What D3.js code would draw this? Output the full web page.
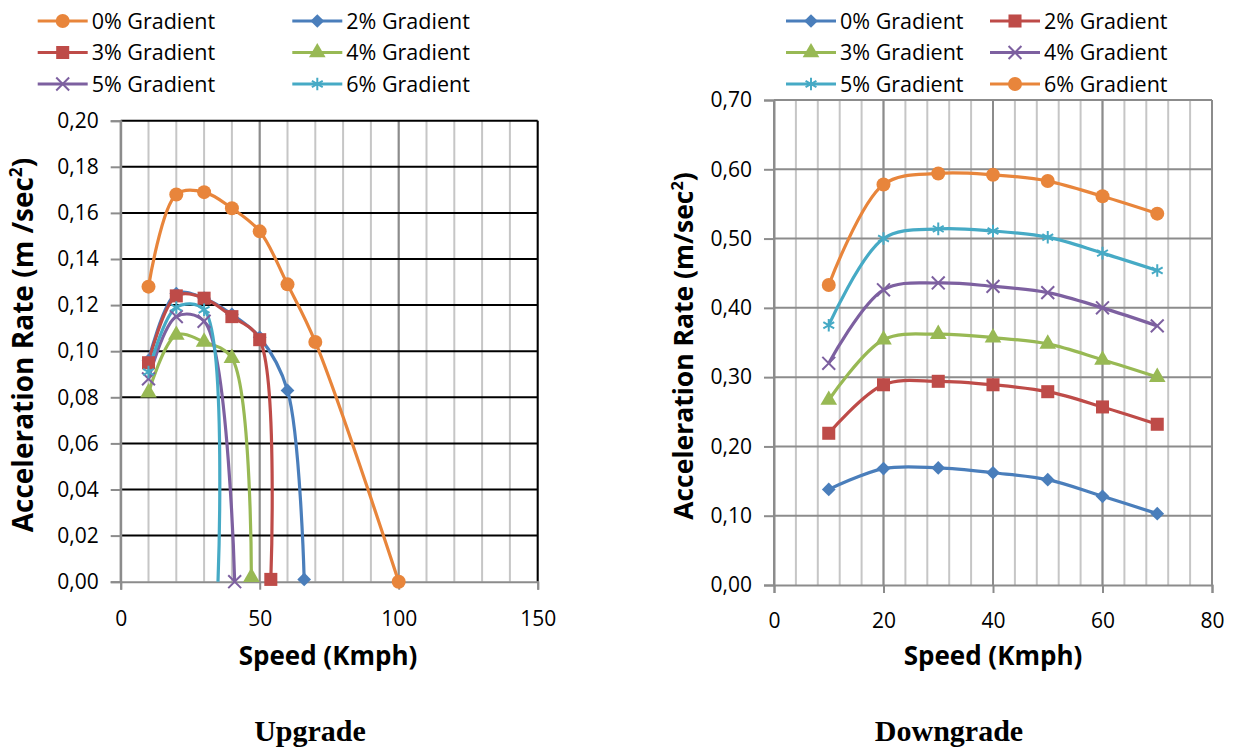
<html>
<head>
<meta charset="utf-8">
<style>
  body { margin: 0; background: #fff; }
  text { font-family: "Open Sans", sans-serif; fill: #000; }
</style>
</head>
<body>
<script src="https://d3js.org/d3.v7.min.js"></script>
<svg id="chart" width="1243" height="749"></svg>
<script>
// ---- data ----
const upLabels = ["0% Gradient", "2% Gradient", "3% Gradient", "4% Gradient", "5% Gradient", "6% Gradient"];
const upSpeeds = [
  [10, 20, 30, 40, 50, 60, 70, 100],
  [10, 20, 30, 40, 50, 60, 66],
  [10, 20, 30, 40, 50, 54],
  [10, 20, 30, 40, 47],
  [10, 20, 30, 41],
  [10, 20, 30, 35]
];
const upRates = [
  [0.128, 0.168, 0.169, 0.162, 0.152, 0.129, 0.104, 0.000],
  [0.096, 0.125, 0.123, 0.116, 0.106, 0.083, 0.001],
  [0.095, 0.124, 0.123, 0.115, 0.105, 0.001],
  [0.082, 0.107, 0.104, 0.097, 0.002],
  [0.088, 0.115, 0.113, 0.000],
  [0.091, 0.119, 0.118, 0.000]
];
// last teal point has no visible marker in the original
const upHideLastMarker = [false, false, false, false, false, true];
const upYTicks = [0, 0.02, 0.04, 0.06, 0.08, 0.10, 0.12, 0.14, 0.16, 0.18, 0.20];
const upXTicks = [0, 50, 100, 150];

const downLabels = ["0% Gradient", "2% Gradient", "3% Gradient", "4% Gradient", "5% Gradient", "6% Gradient"];
const downSpeeds = [10, 20, 30, 40, 50, 60, 70];
const downRates = [
  [0.138, 0.168, 0.169, 0.162, 0.152, 0.128, 0.103],
  [0.219, 0.289, 0.294, 0.289, 0.279, 0.257, 0.232],
  [0.267, 0.354, 0.362, 0.357, 0.348, 0.325, 0.300],
  [0.320, 0.426, 0.436, 0.431, 0.422, 0.400, 0.374],
  [0.375, 0.500, 0.514, 0.511, 0.502, 0.479, 0.454],
  [0.433, 0.578, 0.594, 0.592, 0.583, 0.561, 0.536]
];
const downYTicks = [0, 0.1, 0.2, 0.3, 0.4, 0.5, 0.6, 0.7];
const downXTicks = [0, 20, 40, 60, 80];

// ---- styles ----
const C = {
  blue: "#4A7EBB", red: "#BE4B48", green: "#98B954",
  purple: "#7D60A0", teal: "#46AAC5", orange: "#E8853B"
};
const upStyle = [
  { color: C.orange, sym: "circle" },
  { color: C.blue, sym: "diamond" },
  { color: C.red, sym: "square" },
  { color: C.green, sym: "triangle" },
  { color: C.purple, sym: "times" },
  { color: C.teal, sym: "star" }
];
const downStyle = [
  { color: C.blue, sym: "diamond" },
  { color: C.red, sym: "square" },
  { color: C.green, sym: "triangle" },
  { color: C.purple, sym: "times" },
  { color: C.teal, sym: "star" },
  { color: C.orange, sym: "circle" }
];

const svg = d3.select("#chart");
const comma = v => d3.format(".2f")(v).replace(".", ",");

function drawMarker(g, sym, color) {
  if (sym === "circle") {
    g.append("circle").attr("r", 7).attr("fill", color);
  } else if (sym === "diamond") {
    g.append("path").attr("d", d3.symbol(d3.symbolDiamond2, 120)()).attr("fill", color);
  } else if (sym === "square") {
    g.append("path").attr("d", d3.symbol(d3.symbolSquare, 170)()).attr("fill", color);
  } else if (sym === "triangle") {
    g.append("path").attr("d", d3.symbol(d3.symbolTriangle, 120)()).attr("fill", color);
  } else if (sym === "times") {
    g.append("path").attr("d", d3.symbol(d3.symbolTimes, 110)())
      .attr("fill", "none").attr("stroke", color).attr("stroke-width", 2);
  } else if (sym === "star") {
    g.append("path").attr("d", d3.symbol(d3.symbolAsterisk, 110)())
      .attr("fill", "none").attr("stroke", color).attr("stroke-width", 2);
  }
}

function drawChart(opt) {
  const g = svg.append("g");
  const x = d3.scaleLinear().domain(opt.xDomain).range(opt.xRange);
  const y = d3.scaleLinear().domain(opt.yDomain).range(opt.yRange);
  const [x0, x1] = opt.xRange, [y0, y1] = opt.yRange;

  // vertical minor gridlines
  const minor = d3.range(opt.xDomain[0], opt.xDomain[1] + 1e-9, opt.minorStep);
  g.selectAll(".vminor").data(minor).join("line")
    .attr("x1", d => x(d)).attr("x2", d => x(d)).attr("y1", y0).attr("y2", y1)
    .attr("stroke", "#c6c6c6").attr("stroke-width", 2);
  g.selectAll(".vmajor").data(opt.xTicks).join("line")
    .attr("x1", d => x(d)).attr("x2", d => x(d)).attr("y1", y0).attr("y2", y1)
    .attr("stroke", d => d === opt.xDomain[1] ? opt.edgeColor : "#8c8c8c").attr("stroke-width", 2);
  // horizontal gridlines
  g.selectAll(".hgrid").data(opt.yTicks.slice(1)).join("line")
    .attr("x1", x0).attr("x2", x1).attr("y1", d => y(d)).attr("y2", d => y(d))
    .attr("stroke", opt.hGridColor).attr("stroke-width", 2);

  // axes
  const yAxis = d3.axisLeft(y).tickValues(opt.yTicks).tickFormat(comma)
    .tickSize(10).tickPadding(opt.yPad);
  const ay = g.append("g").attr("transform", `translate(${x0},0)`).call(yAxis);
  const xAxis = d3.axisBottom(x).tickValues(opt.xTicks).tickFormat(d3.format("d"))
    .tickSize(8).tickPadding(opt.xPad);
  const ax = g.append("g").attr("transform", `translate(0,${y0})`).call(xAxis);
  [ay, ax].forEach(a => {
    a.select(".domain").attr("stroke", "#8c8c8c").attr("stroke-width", 2);
    a.selectAll(".tick line").attr("stroke", "#8c8c8c").attr("stroke-width", 2);
    a.selectAll(".tick text").attr("font-family", "Open Sans").attr("font-size", opt.tickFont).attr("fill", "#000");
  });

  // series (Excel-style smoothed lines)
  const line = d3.line().x(d => x(d[0])).y(d => y(d[1])).curve(d3.curveCatmullRom.alpha(0.5));
  opt.series.forEach((s, i) => {
    const pts = s.xs.map((v, k) => [v, s.ys[k]]);
    g.append("path").datum(pts).attr("d", line)
      .attr("fill", "none").attr("stroke", opt.styles[i].color).attr("stroke-width", 3.2);
  });
  opt.series.forEach((s, i) => {
    s.xs.forEach((v, k) => {
      if (s.hideLast && k === s.xs.length - 1) return;
      const mg = g.append("g").attr("transform", `translate(${x(v)},${y(s.ys[k])})`);
      drawMarker(mg, opt.styles[i].sym, opt.styles[i].color);
    });
  });

  // axis titles
  const yt = g.append("text")
    .attr("transform", `translate(${opt.yTitlePos[0]},${opt.yTitlePos[1]}) rotate(-90)`)
    .attr("text-anchor", "middle").attr("font-weight", "bold").attr("font-size", opt.yTitleFont);
  yt.append("tspan").text(opt.yTitle);
  yt.append("tspan").text("2").attr("font-size", opt.yTitleFont * 0.62).attr("dy", -opt.yTitleFont * 0.38);
  yt.append("tspan").text(")").attr("dy", opt.yTitleFont * 0.38);

  g.append("text").attr("x", opt.xTitlePos[0]).attr("y", opt.xTitlePos[1])
    .attr("text-anchor", "middle").attr("font-weight", "bold").attr("font-size", 26)
    .text("Speed (Kmph)");

  // legend
  opt.labels.forEach((lab, i) => {
    const col = i % 2, row = Math.floor(i / 2);
    const lx = opt.legendX[col], ly = opt.legendY[row];
    const lg = g.append("g");
    lg.append("line").attr("x1", lx).attr("x2", lx + 50).attr("y1", ly).attr("y2", ly)
      .attr("stroke", opt.styles[i].color).attr("stroke-width", 3.2);
    drawMarker(lg.append("g").attr("transform", `translate(${lx + 25},${ly})`),
      opt.styles[i].sym, opt.styles[i].color);
    lg.append("text").attr("x", lx + 54).attr("y", ly).attr("dy", "0.35em")
      .attr("font-size", 21.5).text(lab);
  });
}

drawChart({
  xDomain: [0, 150], xRange: [120.7, 537.7],
  yDomain: [0, 0.20], yRange: [581.7, 120.7],
  xTicks: upXTicks, yTicks: upYTicks, minorStep: 10,
  hGridColor: "#000", edgeColor: "#000",
  tickFont: 21, yPad: 12, xPad: 21,
  series: upSpeeds.map((xs, i) => ({ xs: xs, ys: upRates[i], hideLast: upHideLastMarker[i] })),
  styles: upStyle, labels: upLabels,
  yTitle: "Acceleration Rate (m /sec", yTitleFont: 28, yTitlePos: [33, 345],
  xTitlePos: [328, 665],
  legendX: [37.7, 292.3], legendY: [21, 52.5, 84]
});

drawChart({
  xDomain: [0, 80], xRange: [774, 1212],
  yDomain: [0, 0.70], yRange: [585, 100],
  xTicks: downXTicks, yTicks: downYTicks, minorStep: 4,
  hGridColor: "#8c8c8c", edgeColor: "#8c8c8c",
  tickFont: 21, yPad: 12, xPad: 20,
  series: downRates.map(ys => ({ xs: downSpeeds, ys: ys, hideLast: false })),
  styles: downStyle, labels: downLabels,
  yTitle: "Acceleration Rate (m/sec", yTitleFont: 26.5, yTitlePos: [693, 346],
  xTitlePos: [993, 665],
  legendX: [786, 990], legendY: [21, 52.5, 84]
});

// captions
svg.append("text").attr("x", 310).attr("y", 741).attr("text-anchor", "middle")
  .style("font-family", "'Liberation Serif', 'Times New Roman', serif")
  .attr("font-weight", "bold").attr("font-size", 30).text("Upgrade");
svg.append("text").attr("x", 949).attr("y", 741).attr("text-anchor", "middle")
  .style("font-family", "'Liberation Serif', 'Times New Roman', serif")
  .attr("font-weight", "bold").attr("font-size", 30).text("Downgrade");
</script>
</body>
</html>
